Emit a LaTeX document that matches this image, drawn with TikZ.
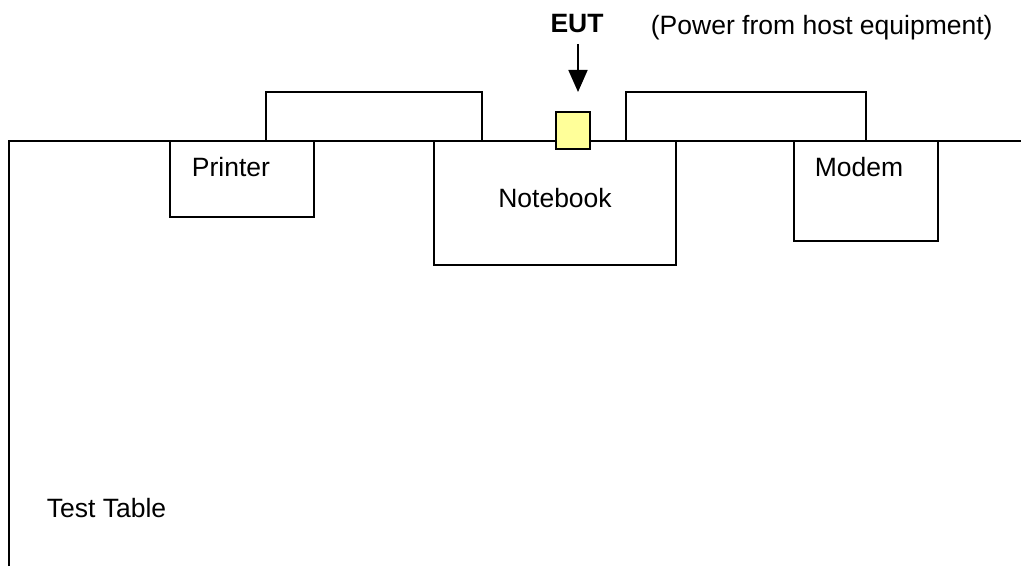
\documentclass[tikz,border=0pt]{standalone}
\usepackage{fontspec}
\setmainfont{Liberation Sans}
\usetikzlibrary{arrows.meta,positioning}
\definecolor{eutyellow}{RGB}{255,255,153}

\begin{document}
\begin{tikzpicture}[x=1pt,y=1pt,line width=1.8pt,
    unit/.style={draw,fill=white,inner sep=0pt},
    lbl/.style={inner sep=0pt,anchor=base west,font=\fontsize{26.5}{30}\selectfont},
    cable/.style={draw,line join=miter}]
    \useasboundingbox (0,0) rectangle (1021,566);
    % test table
    \coordinate (t1) at (9,0);
    \coordinate (t2) at (9,425);
    \coordinate (t3) at (1021,425);
    \draw (t1) -- (t2) -- (t3);
    % equipment on the table
    \node[unit,minimum width=144pt,minimum height=76pt] (prn) at (242,387) {};
    \node[unit,minimum width=242pt,minimum height=124pt] (nb) at (555,363) {};
    \node[unit,minimum width=144pt,minimum height=100pt] (mdm) at (866,375) {};
    \node[draw,fill=eutyellow,inner sep=0pt,minimum width=34pt,minimum height=37pt] (eut) at (573,435.5) {};
    % cables
    \draw[cable] ([xshift=24pt]prn.north) |- ++(0,48) -| ([xshift=-73pt]nb.north);
    \draw[cable] ([xshift=71pt]nb.north) |- ++(0,48) -| (mdm.north);
    % labels
    \node[lbl] (lp) at (191,389) {Printer};
    \node[lbl,anchor=base] (ln) at (555,358) {Notebook};
    \node[lbl,anchor=base] (lm) at (859,389) {Modem};
    \node[lbl] (lt) at (46,49) {Test Table};
    \node[lbl,anchor=base,font=\fontsize{26.5}{30}\selectfont\bfseries] (leut) at (577,533) {EUT};
    \node[lbl] (lpw) at (650,531) {(Power from host equipment)};
    \coordinate (a1) at (578,522);
    \coordinate (a2) at (578,474);
    \draw[-{Triangle[length=22pt,width=19pt]}] (a1) -- (a2);
\end{tikzpicture}
\end{document}
